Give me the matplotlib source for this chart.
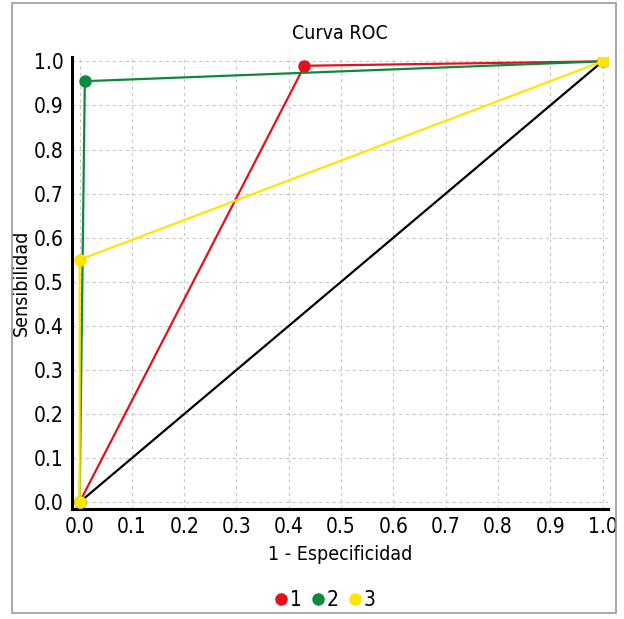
import matplotlib
matplotlib.use("Agg")
import matplotlib.pyplot as plt
from matplotlib.patches import Rectangle
from matplotlib.lines import Line2D

plt.rcParams['font.family'] = ['DejaVu Sans']
plt.rcParams['font.stretch'] = 'condensed'

series_names = ["1", "2", "3"]
fpr_1 = [0.0, 0.43, 1.0]
tpr_1 = [0.0, 0.99, 1.0]
fpr_2 = [0.0, 0.01, 1.0]
tpr_2 = [0.0, 0.955, 1.0]
fpr_3 = [0.0, 0.0, 1.0]
tpr_3 = [0.0, 0.55, 1.0]
diag_x = [0.0, 1.0]
diag_y = [0.0, 1.0]
ticks = [0.0, 0.1, 0.2, 0.3, 0.4, 0.5, 0.6, 0.7, 0.8, 0.9, 1.0]
colors = ["#e3111b", "#0b8a3c", "#ffe600"]

fig = plt.figure(figsize=(6.24, 6.19), dpi=100)
ax = fig.add_axes([0.115, 0.178, 0.859, 0.730])

ax.plot(diag_x, diag_y, color="black", lw=1.6, zorder=2)
for fx, ty, c in zip([fpr_1, fpr_2, fpr_3], [tpr_1, tpr_2, tpr_3], colors):
    ax.plot(fx, ty, color=c, lw=1.6, marker="o", ms=8, zorder=3)

ax.set_xlim(-0.015, 1.01)
ax.set_ylim(-0.015, 1.01)
ax.set_xticks(ticks)
ax.set_yticks(ticks)
ax.set_xticklabels([f"{t:.1f}" for t in ticks])
ax.set_yticklabels([f"{t:.1f}" for t in ticks])
ax.tick_params(length=0, labelsize=15, pad=6)
ax.grid(True, color="#c8c8c8", linestyle=(0, (3, 3)), lw=0.8)
ax.set_axisbelow(True)
for s in ["top", "right"]:
    ax.spines[s].set_visible(False)
for s in ["left", "bottom"]:
    ax.spines[s].set_linewidth(2.2)
    ax.spines[s].set_color("black")

ax.set_title("Curva ROC", fontsize=14, pad=13)
ax.set_xlabel("1 - Especificidad", fontsize=14, labelpad=6)
ax.set_ylabel("Sensibilidad", fontsize=14, labelpad=2)

handles = [Line2D([], [], color=c, marker="o", ls="none", ms=8) for c in colors]
fig.legend(handles, series_names, loc="center", bbox_to_anchor=(0.518, 0.031),
           ncol=3, frameon=False, fontsize=15, handletextpad=-0.1,
           columnspacing=0.3, handlelength=1.0)

fig.patches.append(Rectangle((12/624, 1 - 613/619), (616-12)/624, (613-3)/619,
                             transform=fig.transFigure, fill=False,
                             edgecolor="#9a9a9a", lw=1.2))

fig.savefig("out.png", dpi=100)
